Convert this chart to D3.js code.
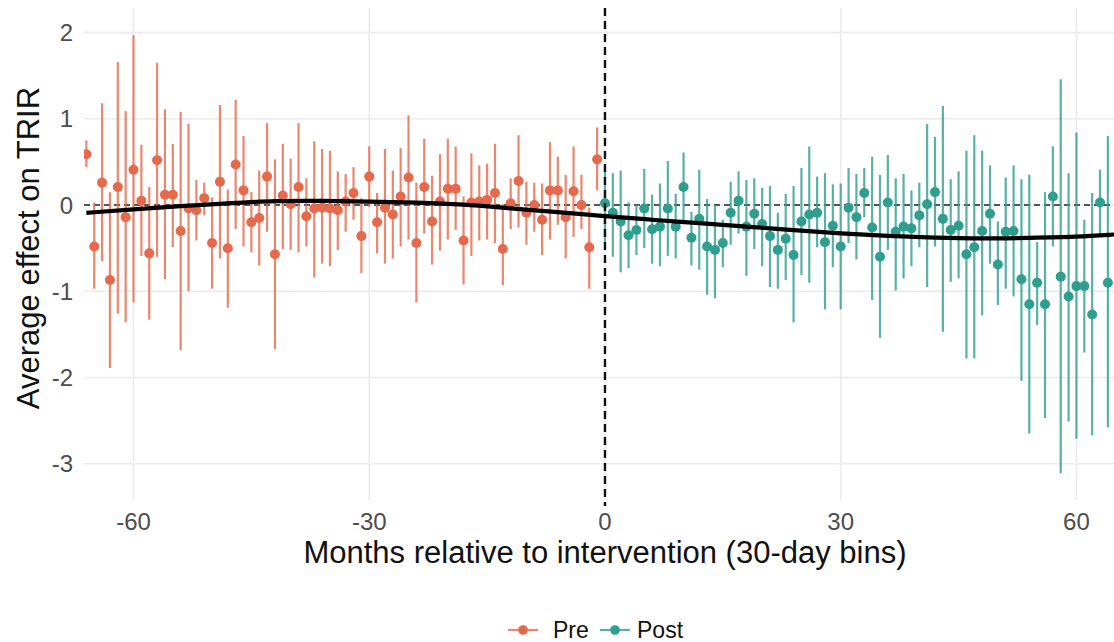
<!DOCTYPE html>
<html>
<head>
<meta charset="utf-8">
<script src="https://cdn.jsdelivr.net/npm/d3@7"></script>
<style>
  body { margin: 0; background: #fff; }
  svg { font-family: "Liberation Sans", Arial, sans-serif; }
</style>
</head>
<body>
<svg id="chart" width="1114" height="642"></svg>
<script>
// months relative to intervention
const preMonths = [-66,-65,-64,-63,-62,-61,-60,-59,-58,-57,-56,-55,-54,-53,-52,-51,-50,-49,-48,-47,-46,-45,-44,-43,-42,-41,-40,-39,-38,-37,-36,-35,-34,-33,-32,-31,-30,-29,-28,-27,-26,-25,-24,-23,-22,-21,-20,-19,-18,-17,-16,-15,-14,-13,-12,-11,-10,-9,-8,-7,-6,-5,-4,-3,-2,-1];
const preEst = [0.59,-0.48,0.26,-0.87,0.21,-0.14,0.41,0.05,-0.56,0.52,0.12,0.12,-0.30,-0.04,-0.06,0.08,-0.44,0.27,-0.50,0.47,0.17,-0.20,-0.15,0.33,-0.57,0.11,0.01,0.21,-0.13,-0.04,-0.03,-0.04,-0.06,0.04,0.14,-0.36,0.33,-0.20,-0.03,-0.11,0.10,0.32,-0.44,0.21,-0.19,0.04,0.19,0.19,-0.41,0.03,0.04,0.06,0.14,-0.51,0.02,0.28,-0.09,0.00,-0.17,0.17,0.17,-0.14,0.16,0.00,-0.49,0.53];
const preLo = [0.44,-0.97,-0.65,-1.89,-1.26,-1.36,-1.13,-0.59,-1.33,-0.60,-0.86,-0.49,-1.68,-1.00,-0.41,-0.12,-0.97,-0.62,-1.19,-0.28,-0.48,-0.55,-0.70,-0.31,-1.67,-0.51,-0.52,-0.55,-0.48,-0.84,-0.68,-0.71,-0.52,-0.31,-0.17,-0.79,-0.02,-0.56,-0.68,-0.62,-0.48,-0.40,-1.13,-0.33,-0.69,-0.53,-0.40,-0.29,-0.92,-0.59,-0.41,-0.40,-0.44,-0.93,-0.28,-0.26,-0.46,-0.31,-0.58,-0.40,-0.23,-0.62,-0.37,-0.28,-0.97,0.17];
const preHi = [0.75,0.03,1.18,0.15,1.66,1.09,1.97,0.70,0.21,1.65,1.11,0.71,1.08,0.94,0.29,0.26,0.09,1.16,0.18,1.22,0.80,0.15,0.40,0.95,0.53,0.71,0.54,0.95,0.31,0.74,0.65,0.63,0.39,0.36,0.44,0.08,0.68,0.14,0.65,0.40,0.66,1.04,0.26,0.77,0.34,0.59,0.77,0.68,0.10,0.60,0.46,0.48,0.71,0.01,0.31,0.81,0.27,0.26,0.25,0.73,0.56,0.35,0.68,0.35,-0.03,0.90];

const postMonths = [0,1,2,3,4,5,6,7,8,9,10,11,12,13,14,15,16,17,18,19,20,21,22,23,24,25,26,27,28,29,30,31,32,33,34,35,36,37,38,39,40,41,42,43,44,45,46,47,48,49,50,51,52,53,54,55,56,57,58,59,60,61,62,63,64];
const postEst = [0.02,-0.09,-0.19,-0.35,-0.29,-0.04,-0.28,-0.25,-0.04,-0.25,0.21,-0.38,-0.16,-0.48,-0.52,-0.44,-0.09,0.05,-0.25,-0.10,-0.22,-0.36,-0.52,-0.39,-0.58,-0.19,-0.11,-0.09,-0.43,-0.24,-0.48,-0.03,-0.14,0.14,-0.26,-0.60,0.03,-0.31,-0.25,-0.27,-0.12,0.01,0.15,-0.16,-0.29,-0.24,-0.57,-0.49,-0.30,-0.10,-0.69,-0.31,-0.30,-0.86,-1.15,-0.90,-1.15,0.10,-0.83,-1.06,-0.94,-0.94,-1.27,0.03,-0.90];
const postLo = [-0.44,-0.60,-0.78,-0.73,-0.58,-0.50,-0.68,-0.71,-0.59,-0.62,-0.21,-0.70,-0.75,-1.04,-1.08,-0.72,-0.46,-0.33,-0.82,-0.51,-0.71,-0.95,-0.97,-0.87,-1.36,-0.81,-0.90,-0.49,-1.21,-0.72,-1.21,-0.44,-0.63,-0.14,-1.10,-1.54,-0.52,-0.99,-0.85,-0.71,-0.49,-0.95,-0.48,-1.47,-0.89,-0.85,-1.78,-1.78,-1.28,-0.68,-1.16,-0.97,-1.06,-2.04,-2.65,-1.39,-2.47,-0.48,-3.11,-2.51,-2.71,-1.71,-2.67,-0.37,-2.58];
const postHi = [0.45,0.37,0.40,0.03,0.00,0.42,0.12,0.25,0.51,0.13,0.61,-0.08,0.41,0.07,0.00,-0.17,0.27,0.39,0.29,0.31,0.20,0.22,-0.09,0.13,0.22,0.43,0.68,0.33,0.37,0.24,0.25,0.43,0.36,0.43,0.56,0.35,0.58,0.31,0.36,0.17,0.26,0.94,0.79,1.15,0.30,0.39,0.63,0.81,0.63,0.46,-0.19,0.32,0.46,0.30,0.35,-0.43,0.15,0.68,1.46,0.37,0.84,-0.17,0.14,0.41,0.80];

// smoothed trend
const fitMonths = [-66,-60,-54,-48,-42,-36,-30,-24,-18,-12,-6,0,6,12,18,24,30,36,42,48,54,60,65];
const fitValues = [-0.09,-0.05,-0.01,0.02,0.05,0.05,0.04,0.03,0.01,-0.04,-0.08,-0.13,-0.17,-0.21,-0.25,-0.29,-0.33,-0.36,-0.38,-0.39,-0.38,-0.37,-0.34];

const xTicks = [-60, -30, 0, 30, 60];
const yTicks = [-3, -2, -1, 0, 1, 2];
const groups = ["Pre", "Post"];
const colors = { Pre: "#E5694A", Post: "#2E9E8E" };

const svg = d3.select("#chart");
const pLeft = 84, pRight = 1114, pTop = 8, pBottom = 500;

const x = d3.scaleLinear().domain([-66.3, 64.78]).range([pLeft, pRight]);
const y = d3.scaleLinear().domain([-3.42, 2.285]).range([pBottom, pTop]);

svg.append("defs").append("clipPath").attr("id", "panel")
  .append("rect").attr("x", pLeft).attr("y", pTop)
  .attr("width", pRight - pLeft).attr("height", pBottom - pTop + 6);

// grid
const grid = svg.append("g");
grid.selectAll(".gy").data(yTicks).join("line")
  .attr("x1", pLeft).attr("x2", pRight)
  .attr("y1", d => y(d)).attr("y2", d => y(d))
  .attr("stroke", "#ebebeb").attr("stroke-width", 1.6);
grid.selectAll(".gx").data(xTicks).join("line")
  .attr("x1", d => x(d)).attr("x2", d => x(d))
  .attr("y1", pTop).attr("y2", pBottom)
  .attr("stroke", "#ebebeb").attr("stroke-width", 1.6);

// tick labels
svg.append("g").selectAll("text").data(yTicks).join("text")
  .attr("x", 73).attr("y", d => y(d) + 8.5)
  .attr("text-anchor", "end").attr("font-size", 24).attr("fill", "#4d4d4d")
  .text(d => d);
svg.append("g").selectAll("text").data(xTicks).join("text")
  .attr("x", d => x(d)).attr("y", 530)
  .attr("text-anchor", "middle").attr("font-size", 24).attr("fill", "#4d4d4d")
  .text(d => d);

const plot = svg.append("g").attr("clip-path", "url(#panel)");

// reference lines
plot.append("line")
  .attr("x1", pLeft).attr("x2", pRight).attr("y1", y(0)).attr("y2", y(0))
  .attr("stroke", "#222").attr("stroke-width", 1.4).attr("stroke-dasharray", "6,4");

const series = [
  { key: "Pre", months: preMonths, est: preEst, lo: preLo, hi: preHi },
  { key: "Post", months: postMonths, est: postEst, lo: postLo, hi: postHi }
];

series.forEach(s => {
  const rows = s.months.map((m, i) => ({ m, est: s.est[i], lo: s.lo[i], hi: s.hi[i] }));
  const g = plot.append("g");
  g.selectAll("line").data(rows).join("line")
    .attr("x1", d => x(d.m)).attr("x2", d => x(d.m))
    .attr("y1", d => y(d.lo)).attr("y2", d => y(d.hi))
    .attr("stroke", colors[s.key]).attr("stroke-opacity", 0.8).attr("stroke-width", 2.2);
  g.selectAll("circle").data(rows).join("circle")
    .attr("cx", d => x(d.m)).attr("cy", d => y(d.est))
    .attr("r", 5).attr("fill", colors[s.key]);
});

// vertical intervention line
plot.append("line")
  .attr("x1", x(0)).attr("x2", x(0)).attr("y1", pTop).attr("y2", pBottom + 6)
  .attr("stroke", "#111").attr("stroke-width", 2.4).attr("stroke-dasharray", "8,5");

// smooth trend
const fit = fitMonths.map((m, i) => [m, fitValues[i]]);
plot.append("path")
  .attr("d", d3.line().x(d => x(d[0])).y(d => y(d[1])).curve(d3.curveBasis)(fit))
  .attr("fill", "none").attr("stroke", "#000").attr("stroke-width", 4.2);

// axis titles
svg.append("text")
  .attr("x", 605).attr("y", 563).attr("text-anchor", "middle")
  .attr("font-size", 31).attr("fill", "#111")
  .text("Months relative to intervention (30-day bins)");
svg.append("text")
  .attr("transform", "translate(39,248) rotate(-90)").attr("text-anchor", "middle")
  .attr("font-size", 31).attr("fill", "#111")
  .text("Average effect on TRIR");

// legend
const legend = svg.append("g").attr("transform", "translate(0,630)");
const keyX = { Pre: 508, Post: 600 };
const labelX = { Pre: 553, Post: 637 };
groups.forEach(k => {
  legend.append("line").attr("x1", keyX[k]).attr("x2", keyX[k] + 30).attr("y1", 0).attr("y2", 0)
    .attr("stroke", colors[k]).attr("stroke-width", 2.2).attr("stroke-opacity", 0.8);
  legend.append("circle").attr("cx", keyX[k] + 15).attr("cy", 0).attr("r", 4.8).attr("fill", colors[k]);
  legend.append("text").attr("x", labelX[k]).attr("y", 8).attr("font-size", 23).attr("fill", "#111").text(k);
});
</script>
</body>
</html>
